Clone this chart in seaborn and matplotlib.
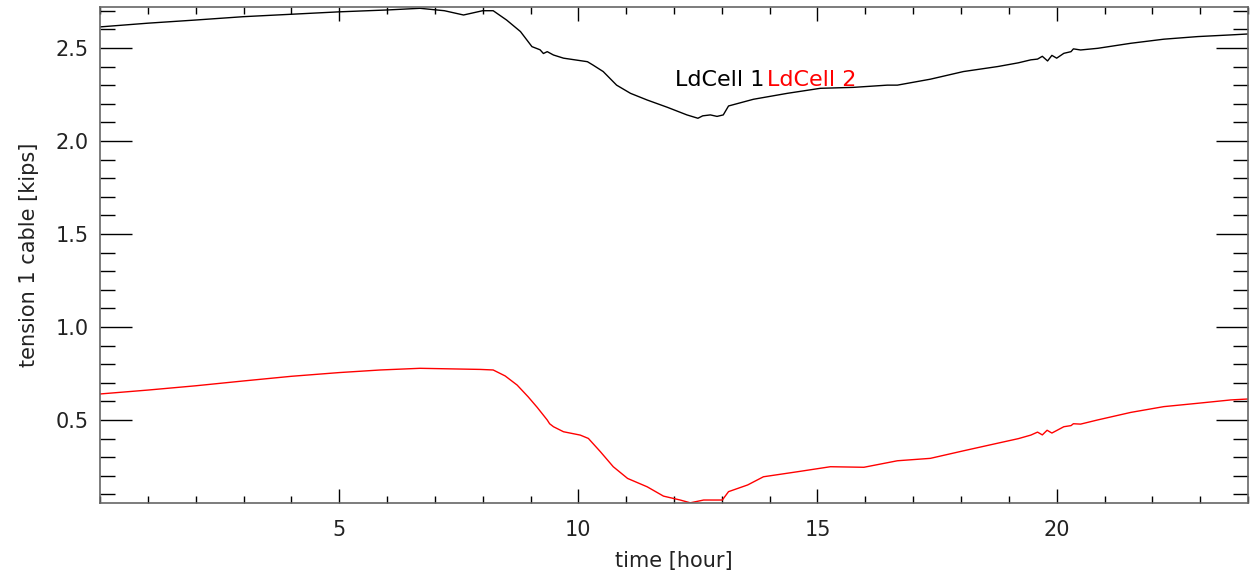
import matplotlib
matplotlib.use("Agg")
import matplotlib.pyplot as plt
import seaborn as sns
import pandas as pd
from matplotlib.ticker import MultipleLocator

# LdCell 1 (black) readings
hours_1 = [0.0, 1.0, 2.0, 3.0, 4.0, 5.0, 6.0, 6.69, 7.2, 7.6, 8.0, 8.22, 8.5, 8.79,
           9.03, 9.2, 9.27, 9.35, 9.48, 9.69, 10.19, 10.3, 10.52, 10.8, 11.09, 11.44,
           11.86, 12.27, 12.5, 12.6, 12.76, 12.9, 13.03, 13.14, 13.66, 14.37, 15.06,
           15.75, 16.46, 16.67, 17.36, 18.05, 18.77, 19.2, 19.46, 19.6, 19.7, 19.81,
           19.9, 20.0, 20.15, 20.3, 20.35, 20.5, 20.86, 21.55, 22.24, 22.95, 23.64, 24.0]
ldcell_1 = [2.613, 2.633, 2.650, 2.668, 2.681, 2.694, 2.704, 2.713, 2.700, 2.677, 2.700,
            2.700, 2.650, 2.588, 2.507, 2.490, 2.470, 2.480, 2.462, 2.445, 2.426, 2.409,
            2.373, 2.300, 2.256, 2.220, 2.181, 2.140, 2.122, 2.135, 2.140, 2.132, 2.140,
            2.188, 2.224, 2.256, 2.283, 2.288, 2.300, 2.300, 2.332, 2.373, 2.400, 2.420,
            2.436, 2.440, 2.455, 2.430, 2.460, 2.445, 2.471, 2.480, 2.495, 2.489, 2.498,
            2.525, 2.547, 2.561, 2.570, 2.575]

# LdCell 2 (red) readings
hours_2 = [0.0, 1.0, 2.0, 3.0, 4.0, 5.0, 5.86, 6.69, 7.95, 8.22, 8.47, 8.72, 8.95, 9.14,
           9.35, 9.4, 9.48, 9.69, 10.04, 10.21, 10.46, 10.73, 11.03, 11.44, 11.78, 12.13,
           12.34, 12.62, 13.01, 13.14, 13.54, 13.87, 14.58, 15.27, 15.97, 16.67, 17.36,
           18.06, 18.76, 19.2, 19.46, 19.6, 19.7, 19.8, 19.9, 20.15, 20.3, 20.35, 20.5,
           20.85, 21.55, 22.24, 22.95, 23.64, 24.0]
ldcell_2 = [0.640, 0.661, 0.684, 0.710, 0.735, 0.755, 0.769, 0.778, 0.772, 0.769, 0.737,
            0.688, 0.625, 0.568, 0.500, 0.480, 0.464, 0.437, 0.419, 0.401, 0.330, 0.249,
            0.186, 0.141, 0.091, 0.070, 0.055, 0.070, 0.070, 0.115, 0.151, 0.195, 0.222,
            0.249, 0.246, 0.281, 0.294, 0.335, 0.375, 0.400, 0.419, 0.435, 0.420, 0.445,
            0.430, 0.464, 0.470, 0.480, 0.478, 0.500, 0.541, 0.572, 0.590, 0.608, 0.613]

x_label = "time [hour]"
y_label = "tension 1 cable [kips]"
series_names = ["LdCell 1", "LdCell 2"]
series_colors = ["black", "red"]

sns.set_style("ticks")
plt.rcParams["font.family"] = ["DejaVu Sans"]

fig = plt.figure(figsize=(12.55, 5.85), dpi=100)
ax = fig.add_axes([100 / 1255, 1 - 503 / 585, 1148 / 1255, 496 / 585])

df1 = pd.DataFrame({"hour": hours_1, "value": ldcell_1})
df2 = pd.DataFrame({"hour": hours_2, "value": ldcell_2})
sns.lineplot(data=df1, x="hour", y="value", color=series_colors[0], lw=1.0, ax=ax)
sns.lineplot(data=df2, x="hour", y="value", color=series_colors[1], lw=1.0, ax=ax)

ax.set_xlim(0, 24)
ax.set_ylim(0.054, 2.72)
ax.xaxis.set_major_locator(MultipleLocator(5))
ax.xaxis.set_minor_locator(MultipleLocator(1))
ax.yaxis.set_major_locator(MultipleLocator(0.5))
ax.yaxis.set_minor_locator(MultipleLocator(0.1))
ax.set_xticks([5, 10, 15, 20])
ax.set_yticks([0.5, 1.0, 1.5, 2.0, 2.5])
ax.set_yticklabels(["0.5", "1.0", "1.5", "2.0", "2.5"])

ax.tick_params(which="both", direction="in", top=True, right=True, color="black",
               width=1.0, labelsize=15, labelcolor="#222222")
ax.tick_params(axis="x", which="major", length=10, pad=12)
ax.tick_params(axis="x", which="minor", length=5)
ax.tick_params(axis="y", which="major", length=23, pad=8)
ax.tick_params(axis="y", which="minor", length=11)
for s in ax.spines.values():
    s.set_visible(True)
    s.set_color("#666666")
    s.set_linewidth(1.2)

ax.set_xlabel(x_label, fontsize=15, color="#222222", labelpad=8)
ax.set_ylabel(y_label, fontsize=15, color="#222222", labelpad=12)

t1 = ax.text(0.501, 0.853, series_names[0] + " ", transform=ax.transAxes,
             color=series_colors[0], fontsize=16, va="center", ha="left")
fig.canvas.draw()
bb = t1.get_window_extent(renderer=fig.canvas.get_renderer())
x_end = ax.transAxes.inverted().transform((bb.x1, bb.y0))[0]
ax.text(x_end - 0.004, 0.853, series_names[1], transform=ax.transAxes,
        color=series_colors[1], fontsize=16, va="center", ha="left")

fig.savefig("out.png", dpi=100)
